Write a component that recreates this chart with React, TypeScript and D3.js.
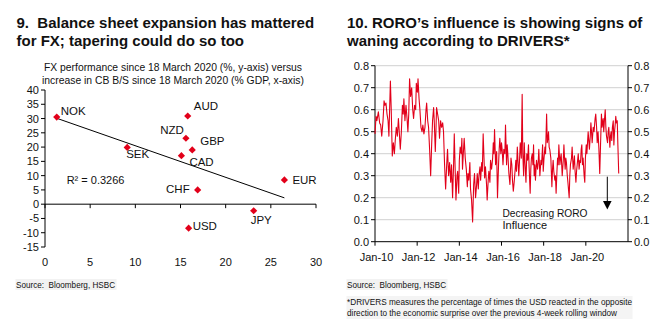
import React from "react";
import * as d3 from "d3";

// ---------- Left chart data ----------
const ccy = ["NOK", "AUD", "NZD", "GBP", "CAD", "SEK", "CHF", "EUR", "JPY", "USD"];
const bsIncrease = [1.3, 15.8, 15.6, 16.3, 15.1, 9.1, 16.9, 26.5, 23.1, 15.9];
const fxPerf = [30.5, 30.9, 23.1, 19.0, 17.0, 19.9, 5.0, 8.5, -2.3, -8.4];
const leftXTicks = [0, 5, 10, 15, 20, 25, 30];
const leftYTicks = [40, 35, 30, 25, 20, 15, 10, 5, 0, -5, -10, -15];
const r2Label = "R\u00b2 = 0.3266";

// ---------- Right chart data ----------
const roroDates = [
  2010.00, 2010.05, 2010.09, 2010.16, 2010.22, 2010.27, 2010.32, 2010.38, 2010.43, 2010.47,
  2010.52, 2010.57, 2010.62, 2010.66, 2010.73, 2010.77, 2010.82, 2010.87, 2010.92, 2010.96,
  2011.01, 2011.06, 2011.11, 2011.15, 2011.20, 2011.25, 2011.30, 2011.34, 2011.37, 2011.42,
  2011.47, 2011.52, 2011.56, 2011.60, 2011.64, 2011.69, 2011.74, 2011.79, 2011.83, 2011.88,
  2011.93, 2011.96, 2012.01, 2012.04, 2012.09, 2012.13, 2012.18, 2012.23, 2012.27, 2012.32,
  2012.37, 2012.42, 2012.45, 2012.50, 2012.54, 2012.59, 2012.64, 2012.69, 2012.73, 2012.78,
  2012.81, 2012.86, 2012.89, 2012.92, 2012.97, 2013.02, 2013.06, 2013.11, 2013.16, 2013.21,
  2013.25, 2013.30, 2013.35, 2013.40, 2013.44, 2013.49, 2013.54, 2013.59, 2013.63, 2013.68,
  2013.73, 2013.76, 2013.81, 2013.84, 2013.89, 2013.92, 2013.97, 2014.00, 2014.04, 2014.09,
  2014.12, 2014.15, 2014.20, 2014.23, 2014.28, 2014.33, 2014.38, 2014.41, 2014.45, 2014.50,
  2014.53, 2014.58, 2014.63, 2014.68, 2014.72, 2014.77, 2014.82, 2014.85, 2014.90, 2014.93,
  2014.98, 2015.01, 2015.06, 2015.09, 2015.13, 2015.17, 2015.20, 2015.24, 2015.29, 2015.32,
  2015.37, 2015.40, 2015.45, 2015.48, 2015.53, 2015.58, 2015.61, 2015.64, 2015.67, 2015.72,
  2015.77, 2015.81, 2015.86, 2015.89, 2015.92, 2015.97, 2016.00, 2016.03, 2016.07, 2016.11,
  2016.16, 2016.19, 2016.24, 2016.27, 2016.30, 2016.35, 2016.40, 2016.45, 2016.49, 2016.52,
  2016.56, 2016.60, 2016.65, 2016.68, 2016.71, 2016.75, 2016.79, 2016.82, 2016.86, 2016.89,
  2016.94, 2016.98, 2017.01, 2017.05, 2017.08, 2017.11, 2017.16, 2017.20, 2017.24, 2017.28,
  2017.31, 2017.36, 2017.39, 2017.42, 2017.46, 2017.49, 2017.52, 2017.55, 2017.58, 2017.61,
  2017.66, 2017.71, 2017.74, 2017.77, 2017.82, 2017.87, 2017.90, 2017.95, 2017.98, 2018.01,
  2018.06, 2018.09, 2018.14, 2018.17, 2018.20, 2018.23, 2018.26, 2018.29, 2018.34, 2018.39,
  2018.42, 2018.45, 2018.48, 2018.53, 2018.56, 2018.59, 2018.63, 2018.66, 2018.69, 2018.72,
  2018.77, 2018.80, 2018.83, 2018.88, 2018.93, 2018.96, 2018.99, 2019.02, 2019.05, 2019.08,
  2019.12, 2019.15, 2019.21, 2019.24, 2019.27, 2019.32, 2019.35, 2019.40, 2019.43, 2019.46,
  2019.49, 2019.53, 2019.56, 2019.59, 2019.64, 2019.68, 2019.72, 2019.75, 2019.78, 2019.81,
  2019.84, 2019.87, 2019.92, 2019.95, 2019.98, 2020.02, 2020.05, 2020.08, 2020.11, 2020.14,
  2020.17, 2020.21, 2020.24, 2020.27, 2020.30, 2020.35, 2020.39, 2020.44, 2020.47, 2020.51,
  2020.54, 2020.58, 2020.62, 2020.66, 2020.70, 2020.74, 2020.77, 2020.82, 2020.85, 2020.88,
  2020.92, 2020.95, 2020.98, 2021.03, 2021.06, 2021.09, 2021.14, 2021.17, 2021.20, 2021.23,
  2021.26, 2021.30, 2021.33, 2021.36, 2021.39, 2021.42, 2021.45, 2021.49, 2021.52, 2021.56,
];
const roroValues = [
  0.49, 0.57, 0.55, 0.59, 0.54, 0.53, 0.48, 0.55, 0.64, 0.62,
  0.63, 0.58, 0.55, 0.48, 0.73, 0.60, 0.39, 0.45, 0.40, 0.46,
  0.52, 0.48, 0.56, 0.50, 0.42, 0.50, 0.62, 0.58, 0.65, 0.55,
  0.62, 0.56, 0.50, 0.58, 0.74, 0.66, 0.70, 0.60, 0.56, 0.62,
  0.60, 0.72, 0.68, 0.74, 0.65, 0.60, 0.52, 0.50, 0.53, 0.49,
  0.52, 0.60, 0.63, 0.55, 0.52, 0.42, 0.30, 0.45, 0.55, 0.61,
  0.55, 0.41, 0.50, 0.61, 0.58, 0.55, 0.47, 0.55, 0.52, 0.54,
  0.50, 0.35, 0.24, 0.35, 0.42, 0.30, 0.36, 0.27, 0.35, 0.20,
  0.36, 0.49, 0.30, 0.19, 0.30, 0.32, 0.22, 0.37, 0.43, 0.40,
  0.47, 0.33, 0.42, 0.47, 0.38, 0.33, 0.25, 0.31, 0.28, 0.36,
  0.24, 0.19, 0.09, 0.26, 0.31, 0.20, 0.26, 0.31, 0.24, 0.30,
  0.34, 0.28, 0.36, 0.32, 0.49, 0.38, 0.29, 0.34, 0.26, 0.19,
  0.28, 0.32, 0.27, 0.37, 0.33, 0.38, 0.45, 0.40, 0.51, 0.35,
  0.41, 0.20, 0.35, 0.42, 0.47, 0.40, 0.45, 0.42, 0.35, 0.42,
  0.40, 0.53, 0.35, 0.44, 0.40, 0.31, 0.26, 0.38, 0.35, 0.28,
  0.23, 0.27, 0.33, 0.37, 0.32, 0.43, 0.35, 0.30, 0.38, 0.45,
  0.38, 0.67, 0.40, 0.30, 0.45, 0.37, 0.27, 0.40, 0.37, 0.44,
  0.34, 0.22, 0.33, 0.38, 0.40, 0.35, 0.44, 0.30, 0.35, 0.28,
  0.37, 0.33, 0.36, 0.42, 0.30, 0.37, 0.35, 0.44, 0.32, 0.37,
  0.43, 0.40, 0.58, 0.45, 0.47, 0.50, 0.43, 0.42, 0.38, 0.25,
  0.33, 0.37, 0.32, 0.28, 0.30, 0.22, 0.32, 0.38, 0.35, 0.44,
  0.35, 0.38, 0.40, 0.30, 0.37, 0.44, 0.38, 0.33, 0.38, 0.36,
  0.30, 0.27, 0.20, 0.30, 0.35, 0.38, 0.43, 0.33, 0.36, 0.39,
  0.32, 0.27, 0.32, 0.35, 0.40, 0.33, 0.37, 0.36, 0.42, 0.44,
  0.35, 0.38, 0.30, 0.27, 0.38, 0.44, 0.40, 0.45, 0.50, 0.46,
  0.42, 0.48, 0.54, 0.50, 0.45, 0.52, 0.50, 0.56, 0.58, 0.52,
  0.45, 0.50, 0.42, 0.31, 0.45, 0.58, 0.52, 0.56, 0.50, 0.55,
  0.60, 0.52, 0.48, 0.45, 0.50, 0.52, 0.43, 0.48, 0.50, 0.46,
  0.52, 0.55, 0.44, 0.50, 0.53, 0.57, 0.54, 0.55, 0.44, 0.31,
];
const rightYTicks = [0, 0.1, 0.2, 0.3, 0.4, 0.5, 0.6, 0.7, 0.8];
const rightXTicks = [2010, 2012, 2014, 2016, 2018, 2020];
const rightXLabels = ["Jan-10", "Jan-12", "Jan-14", "Jan-16", "Jan-18", "Jan-20"];

const FONT = "'Liberation Sans', Arial, sans-serif";
const RED = "#e2001a";
const TXT = "#111";

// label offsets (style) relative to each point
const labelOffsets: Record<string, [number, number, string]> = {
  NOK: [4, -2, "start"],
  AUD: [6, -6, "start"],
  NZD: [-2, -4, "end"],
  GBP: [8, -5, "start"],
  SEK: [-1, 11, "start"],
  CAD: [8, 10, "start"],
  CHF: [-8, 3, "end"],
  EUR: [8, 4, "start"],
  JPY: [-3, 13, "start"],
  USD: [4, 2, "start"],
};

export default function App() {
  const xL = d3.scaleLinear().domain([0, 30]).range([45, 316]);
  const yL = d3.scaleLinear().domain([-15, 40]).range([247, 90]);
  const mx = d3.mean(bsIncrease)!;
  const my = d3.mean(fxPerf)!;
  let sxy = 0, sxx = 0;
  bsIncrease.forEach((x, i) => { sxy += (x - mx) * (fxPerf[i] - my); sxx += (x - mx) ** 2; });
  const slope = sxy / sxx;
  const icpt = my - slope * mx;
  const xMin = d3.min(bsIncrease)!;
  const xMax = d3.max(bsIncrease)!;

  const xR = d3.scaleLinear().domain([2010, 2022]).range([375, 628]);
  const yR = d3.scaleLinear().domain([0, 0.8]).range([241.7, 65.7]);
  const line = d3.line<number>().x((_, i) => xR(roroDates[i])).y((v) => yR(v));

  const diamond = (cx: number, cy: number, r: number) =>
    `M${cx},${cy - r}L${cx + r},${cy}L${cx},${cy + r}L${cx - r},${cy}Z`;

  return (
    <svg width={663} height={326} style={{ position: "absolute", left: 0, top: 0, background: "#fff" }} fontFamily={FONT}>
      <g fontWeight="bold" fontSize={15} fill={TXT}>
        <text x={16.5} y={28}>9.&#160; Balance sheet expansion has mattered</text>
        <text x={16.5} y={46}>for FX; tapering could do so too</text>
        <text x={347} y={28}>10. RORO’s influence is showing signs of</text>
        <text x={347} y={46}>waning according to DRIVERS*</text>
      </g>

      <g fontSize={11} fill={TXT} textAnchor="middle">
        <text x={173} y={70.5} textLength={258} lengthAdjust="spacingAndGlyphs">FX performance since 18 March 2020 (%, y-axis) versus</text>
        <text x={173} y={84} textLength={262} lengthAdjust="spacingAndGlyphs">increase in CB B/S since 18 March 2020 (% GDP, x-axis)</text>
      </g>

      <g stroke="#000" strokeWidth={1}>
        <line x1={xL(0)} x2={xL(0)} y1={yL(40)} y2={yL(-15)} />
        {leftYTicks.map((t) => (
          <line key={t} x1={xL(0) - 4} x2={xL(0)} y1={yL(t)} y2={yL(t)} />
        ))}
        <line x1={xL(0)} x2={xL(30)} y1={yL(0)} y2={yL(0)} />
        {leftXTicks.map((t) => (
          <line key={t} x1={xL(t)} x2={xL(t)} y1={yL(0)} y2={yL(0) + 4} />
        ))}
      </g>
      <g fontSize={11} fill={TXT}>
        {leftYTicks.map((t) => (
          <text key={t} x={xL(0) - 6} y={yL(t) + 4} textAnchor="end">{t}</text>
        ))}
        {leftXTicks.map((t) => (
          <text key={t} x={xL(t)} y={266} textAnchor="middle">{t}</text>
        ))}
      </g>
      <line x1={xL(xMin)} y1={yL(icpt + slope * xMin)} x2={xL(xMax)} y2={yL(icpt + slope * xMax)} stroke="#000" strokeWidth={1} />
      {ccy.map((c, i) => (
        <path key={c} d={diamond(xL(bsIncrease[i]), yL(fxPerf[i]), 3.6)} fill={RED} />
      ))}
      <g fontSize={11.5} fill={TXT}>
        {ccy.map((c, i) => {
          const [dx, dy, anchor] = labelOffsets[c];
          return (
            <text key={c} x={xL(bsIncrease[i]) + dx} y={yL(fxPerf[i]) + dy} textAnchor={anchor as any}>{c}</text>
          );
        })}
        <text x={xL(2.4)} y={yL(7)} fontSize={11}>{r2Label}</text>
      </g>

      <rect x={15.5} y={279} width={101} height={11} fill="#f2f2f2" />
      <text x={16} y={287.5} fontSize={9} fill={TXT} textLength={99} lengthAdjust="spacingAndGlyphs">Source:&#160; Bloomberg, HSBC</text>

      <g stroke="#d9d9d9" strokeWidth={1.3}>
        {rightYTicks.filter((t) => t > 0).map((t) => (
          <line key={t} x1={xR(2010)} x2={xR(2022)} y1={yR(t)} y2={yR(t)} />
        ))}
      </g>
      <g stroke="#000" strokeWidth={1}>
        <line x1={xR(2010)} x2={xR(2010)} y1={yR(0.8)} y2={yR(0)} />
        <line x1={xR(2022)} x2={xR(2022)} y1={yR(0.8)} y2={yR(0)} />
        <line x1={xR(2010)} x2={xR(2022)} y1={yR(0)} y2={yR(0)} />
        {rightYTicks.map((t) => (
          <g key={t}>
            <line x1={xR(2010) - 4} x2={xR(2010)} y1={yR(t)} y2={yR(t)} />
            <line x1={xR(2022)} x2={xR(2022) + 4} y1={yR(t)} y2={yR(t)} />
          </g>
        ))}
        {rightXTicks.map((t) => (
          <line key={t} x1={xR(t)} x2={xR(t)} y1={yR(0)} y2={yR(0) + 4} />
        ))}
      </g>
      <g fontSize={11} fill={TXT}>
        {rightYTicks.map((t) => (
          <g key={t}>
            <text x={xR(2010) - 6} y={yR(t) + 4} textAnchor="end">{t.toFixed(1)}</text>
            <text x={xR(2022) + 6} y={yR(t) + 4} textAnchor="start">{t.toFixed(1)}</text>
          </g>
        ))}
        {rightXTicks.map((t, i) => (
          <text key={t} x={xR(t) + 1.5} y={261} textAnchor="middle">{rightXLabels[i]}</text>
        ))}
      </g>
      <path d={line(roroValues) || ""} fill="none" stroke={RED} strokeWidth={1.1} strokeLinejoin="round" />

      <g fontSize={11} fill={TXT}>
        <text x={502.5} y={217} textLength={85} lengthAdjust="spacingAndGlyphs">Decreasing RORO</text>
        <text x={502.5} y={229}>Influence</text>
      </g>
      <line x1={607.3} x2={607.3} y1={176.7} y2={202} stroke="#000" strokeWidth={1} />
      <path d="M603,201L611.6,201L607.3,209.5Z" fill="#000" />

      <rect x={346.5} y={279} width={101} height={11} fill="#f2f2f2" />
      <text x={347} y={287.5} fontSize={9} fill={TXT} textLength={99} lengthAdjust="spacingAndGlyphs">Source:&#160; Bloomberg, HSBC</text>
      <rect x={346.5} y={296} width={286} height={23} fill="#f4f4f4" />
      <text x={347} y={304.5} fontSize={8.5} fill={TXT} textLength={285} lengthAdjust="spacingAndGlyphs">*DRIVERS measures the percentage of times the USD reacted in the opposite</text>
      <text x={347} y={316} fontSize={8.5} fill={TXT} textLength={270} lengthAdjust="spacingAndGlyphs">direction to the economic surprise over the previous 4-week rolling window</text>
    </svg>
  );
}
